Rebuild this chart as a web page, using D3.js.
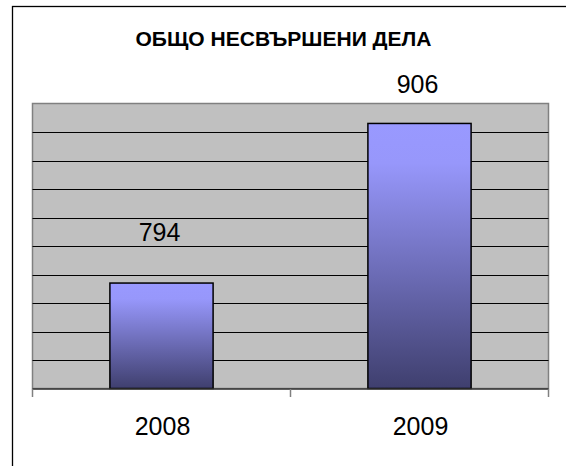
<!DOCTYPE html>
<html>
<head>
<meta charset="utf-8">
<script src="https://cdn.jsdelivr.net/npm/d3@7.9.0/dist/d3.min.js"></script>
<style>
  html, body { margin: 0; padding: 0; background: #fff; }
  svg { display: block; font-family: "Liberation Sans", Arial, sans-serif; }
</style>
</head>
<body>
<svg width="566" height="466"></svg>
<script>
// chart data
const title = 'ОБЩО НЕСВЪРШЕНИ ДЕЛА';
const years = ['2008', '2009'];
const cases = [794, 906];
const yDomain = [720, 920];

// how far each value label sits above its bar (as in the original)
const labelLift = { '2008': 42, '2009': 30 };

const svg = d3.select('svg');

// outer chart frame (runs off the right and bottom of the picture)
svg.append('rect')
  .attr('x', 12.5).attr('y', 6.5)
  .attr('width', 600).attr('height', 500)
  .attr('fill', 'none')
  .attr('stroke', '#000')
  .attr('stroke-width', 1.3);

svg.append('text')
  .attr('x', 283.5).attr('y', 45.5)
  .attr('text-anchor', 'middle')
  .attr('font-weight', 'bold')
  .attr('font-size', '20.5px')
  .attr('textLength', 296)
  .attr('lengthAdjust', 'spacingAndGlyphs')
  .text(title);

const plot = { left: 32.5, right: 548.5, top: 103.5, bottom: 388.5 };

let x = d3.scaleBand()
  .domain(years)
  .range([plot.left, plot.right])
  .paddingInner(0.6)
  .paddingOuter(0.3);

let y = d3.scaleLinear()
  .domain(yDomain)
  .range([plot.bottom, plot.top]);

// gradient for the bars
let grad = svg.append('defs').append('linearGradient')
  .attr('id', 'barGrad')
  .attr('x1', 0).attr('y1', 0).attr('x2', 0).attr('y2', 1);
grad.append('stop').attr('offset', '0%').attr('stop-color', '#9999ff');
grad.append('stop').attr('offset', '15%').attr('stop-color', '#9797fb');
grad.append('stop').attr('offset', '100%').attr('stop-color', '#3f3f6e');

// plot area
svg.append('rect')
  .attr('x', plot.left).attr('y', plot.top)
  .attr('width', plot.right - plot.left)
  .attr('height', plot.bottom - plot.top)
  .attr('fill', '#c0c0c0')
  .attr('stroke', '#808080')
  .attr('stroke-width', 1.5);

// gridlines
svg.append('g')
  .selectAll('line')
  .data(y.ticks(10).filter(t => t > yDomain[0] && t < yDomain[1]))
  .join('line')
  .attr('x1', plot.left).attr('x2', plot.right)
  .attr('y1', d => Math.round(y(d)) + 0.5)
  .attr('y2', d => Math.round(y(d)) + 0.5)
  .attr('stroke', '#000')
  .attr('stroke-width', 1);

// bars
svg.append('g')
  .selectAll('rect')
  .data(cases)
  .join('rect')
  .attr('x', (d, i) => x(years[i]))
  .attr('y', d => y(d))
  .attr('width', x.bandwidth())
  .attr('height', d => y(yDomain[0]) - y(d))
  .attr('fill', 'url(#barGrad)')
  .attr('stroke', '#000')
  .attr('stroke-width', 1.5);

// value labels
svg.append('g')
  .selectAll('text')
  .data(cases)
  .join('text')
  .attr('x', (d, i) => x(years[i]) + x.bandwidth() / 2 - 2)
  .attr('y', (d, i) => y(d) - labelLift[years[i]])
  .attr('text-anchor', 'middle')
  .attr('font-size', '25px')
  .text(d => d);

// x axis
let xAxis = svg.append('g')
  .attr('transform', `translate(0,${plot.bottom + 0.5})`);
xAxis.append('line')
  .attr('x1', plot.left).attr('x2', plot.right)
  .attr('stroke', '#333').attr('stroke-width', 1.5);
let step = x.step();
let edges = [plot.left, plot.left + step, plot.right];
xAxis.selectAll('.tick')
  .data(edges)
  .join('line')
  .attr('class', 'tick')
  .attr('x1', d => d).attr('x2', d => d)
  .attr('y1', 0).attr('y2', 8)
  .attr('stroke', '#808080').attr('stroke-width', 1.5);
xAxis.selectAll('text')
  .data(years)
  .join('text')
  .attr('x', d => x(d) + x.bandwidth() / 2 + 1)
  .attr('y', 45.5)
  .attr('text-anchor', 'middle')
  .attr('font-size', '25px')
  .text(d => d);
</script>
</body>
</html>
